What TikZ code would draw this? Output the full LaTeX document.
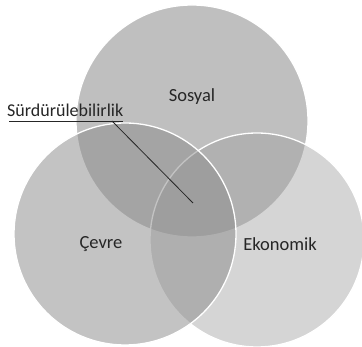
\documentclass[tikz,border=0pt]{standalone}
\usepackage{fontspec}
\setmainfont{Carlito}
\begin{document}
\begin{tikzpicture}[x=1pt,y=-1pt,
  setdisc/.style={draw=white,line width=1.3pt},
  setlabel/.style={font=\fontsize{18.5}{20}\selectfont,text=black!85,inner sep=0pt},
  pointer/.style={draw=black!85,line width=0.8pt}]
  \useasboundingbox (0,0) rectangle (362,347);
  \clip (0,0) rectangle (362,347);
  % three overlapping sets
  \fill[white] (0,0) rectangle (362,347);
  \draw[setdisc,fill={rgb,255:red,191;green,191;blue,191}] (192,121) circle (116);
  \draw[setdisc,fill={rgb,255:red,161;green,161;blue,161},fill opacity=0.44] (257,240) circle (107);
  \draw[setdisc,fill={rgb,255:red,141;green,141;blue,141},fill opacity=0.52] (125,234) circle (111);
  % set names
  \node[setlabel] (sos) at (192,97) {Sosyal};
  \node[setlabel] (cev) at (101,244) {Çevre};
  \node[setlabel] (eko) at (280,244) {Ekonomik};
  % label of the common core, underlined by hand
  \node[setlabel,font=\fontsize{18}{20}\selectfont,anchor=base west] (lbl) at (7,117) {Sürdürülebilirlik};
  \draw[pointer] ([xshift=2pt,yshift=-4pt]lbl.south west) -- ([yshift=-4pt]lbl.south east);
  \coordinate (tail) at (112,121);
  \coordinate (core) at (193,203);
  \draw[pointer] (tail) -- (core);
\end{tikzpicture}
\end{document}
